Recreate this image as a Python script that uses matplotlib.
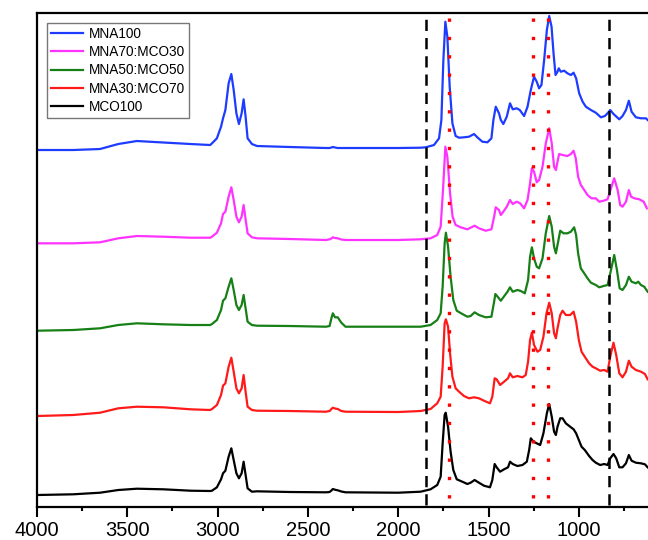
import matplotlib
matplotlib.use("Agg")
import matplotlib.pyplot as plt
import numpy as np

plt.rcParams['font.family'] = ['Liberation Sans', 'DejaVu Sans']

labels = ["MNA100", "MNA70:MCO30", "MNA50:MCO50", "MNA30:MCO70", "MCO100"]
colors = ["#1E3CFF", "#FF33FF", "#168016", "#FF1A1A", "#000000"]

# shared wavenumber grids (cm^-1)
wn_left = [4000, 3800, 3651, 3550, 3447, 3300, 3150, 3041]
wn_ch = [3031, 3004, 2981, 2970, 2957, 2939, 2924, 2911, 2896, 2882, 2867, 2856, 2845, 2834, 2810]
wn_mid = [2782, 2600, 2400, 2380, 2370, 2362, 2350, 2335, 2315, 2292, 2000]

# ---------------- MNA100 ----------------
blue_left = [362, 362, 363, 368, 371, 369.5, 368, 367]
blue_ch = [368.7, 373.7, 385.3, 393.7, 402, 428.7, 438, 422, 398.7, 388, 398.7, 412.7, 395.3, 373.7, 368]
blue_mid = [366, 365, 364, 364, 364.5, 365, 364.5, 364, 364, 364, 364]
blue_wn_r = [1876, 1848, 1802, 1774, 1761, 1750, 1739, 1728, 1715, 1700, 1682, 1663, 1636, 1608, 1580,
             1562, 1534, 1506, 1484, 1473, 1460, 1442, 1432, 1418, 1399, 1381, 1366, 1344, 1327, 1303,
             1284, 1266, 1248, 1233, 1220, 1207, 1192, 1177, 1164, 1151, 1140, 1129, 1118, 1111, 1100,
             1081, 1063, 1044, 1029, 1015, 998, 979, 961, 933, 906, 878, 856, 841, 826, 808, 776, 758,
             739, 723, 708, 684, 656, 628, 619]
blue_r = [364.3, 364.7, 367, 373.7, 392, 452, 490.3, 475.3, 425.3, 388.7, 376, 374.3, 374.7, 375.3, 378,
          374.7, 370.3, 369.7, 373.7, 392, 405.3, 398.7, 392, 388, 395.3, 408.7, 402.7, 403.7, 402, 396,
          405.3, 422, 435.3, 430.3, 423.7, 427, 452, 482, 496, 485.3, 458.7, 437, 440.3, 443.7, 440.3,
          441.3, 438.7, 437, 439.3, 433.7, 418.7, 410.3, 405.3, 402, 399.3, 394.7, 396, 398.7, 402, 398,
          392.7, 396, 402, 411.3, 400.3, 394.7, 393.7, 393.7, 392]

# ---------------- MNA70:MCO30 ----------------
pink_left = [268.7, 268.7, 269.7, 273.7, 276, 275.3, 274.3, 274.3]
pink_ch = [275.3, 279.3, 288.7, 298, 300.3, 315.3, 324.7, 312, 295.3, 289.7, 295.3, 307, 292.7, 278.7, 274.7]
pink_mid = [273.7, 273, 272, 272.7, 273.5, 274.7, 274, 273.7, 272.5, 272, 272]
pink_wn_r = [1876, 1821, 1784, 1765, 1752, 1739, 1728, 1713, 1699, 1682, 1654, 1617, 1595, 1577, 1553,
             1516, 1484, 1469, 1460, 1442, 1432, 1418, 1399, 1381, 1366, 1344, 1325, 1303, 1284, 1270,
             1260, 1248, 1233, 1220, 1201, 1183, 1164, 1150, 1137, 1127, 1118, 1109, 1090, 1063, 1044,
             1029, 1017, 1004, 989, 970, 952, 930, 906, 887, 863, 841, 822, 804, 785, 771, 758, 739, 723,
             711, 693, 665, 641, 623]
pink_r = [272.7, 273.7, 277, 285.3, 322, 365.3, 355.3, 318.7, 295.3, 287, 284.7, 282.7, 284.7, 286.3, 283.7,
          281.3, 282.7, 295.3, 304.7, 302, 297, 300.3, 305.3, 312, 308, 310.3, 308.7, 303.7, 312, 328.7,
          343.7, 340.3, 329.7, 332, 345.3, 368.7, 383.7, 368.7, 345.3, 342, 350.3, 358, 357, 356, 358,
          361.3, 353.7, 335.3, 327, 322, 317, 313.7, 313.7, 310.3, 311.3, 312.7, 323.7, 333.7, 322, 307,
          305.3, 310.3, 322, 315.3, 313.7, 312.7, 310.3, 303.7]

# ---------------- MNA50:MCO50 ----------------
green_left = [181.3, 182, 183.7, 187, 188.7, 187.7, 187, 187]
green_ch = [188, 192, 202, 211.3, 213.7, 225.3, 233.7, 222, 207, 202, 207, 217, 203.7, 190.3, 187]
green_mid = [186.3, 186, 185.3, 186, 193.7, 198.7, 194.7, 194.7, 189.3, 185.3, 185.3]
green_wn_r = [1876, 1821, 1784, 1765, 1754, 1743, 1736, 1724, 1710, 1695, 1676, 1645, 1617, 1599, 1577,
              1553, 1516, 1484, 1469, 1462, 1447, 1432, 1418, 1395, 1381, 1366, 1340, 1321, 1299, 1281,
              1270, 1260, 1248, 1233, 1220, 1201, 1183, 1164, 1150, 1137, 1127, 1118, 1103, 1085, 1063,
              1044, 1026, 1015, 1004, 989, 970, 952, 933, 906, 887, 863, 841, 826, 804, 789, 774, 758,
              739, 723, 708, 684, 671, 656, 638, 619]
green_r = [185.3, 187, 192, 198.7, 225.3, 268.7, 279.3, 265.3, 235.3, 212, 201.3, 198, 195.3, 196, 199.7,
           197, 194.7, 195.3, 210.3, 218, 214.7, 211.3, 214.7, 220.3, 224.7, 220.3, 222, 221, 218.7, 232,
           255.3, 264.7, 253.7, 245.3, 243.7, 253.7, 278.7, 296, 285.3, 265.3, 258.7, 267, 281.3, 278.7,
           278.7, 280.3, 284.7, 277, 258.7, 243.7, 238.7, 233.7, 229.3, 227, 224.7, 226, 227, 238.7, 257,
           242, 223.7, 222, 227, 235.3, 230.3, 228.7, 230.3, 227, 225.3, 220.3]

# ---------------- MNA30:MCO70 ----------------
red_left = [96, 97, 99.3, 103.7, 105.3, 104.7, 102.7, 102]
red_ch = [103, 107, 117, 126.3, 128.7, 145.3, 154.3, 140.3, 123.7, 118.7, 123.7, 137, 120.3, 105.3, 102]
red_mid = [101.3, 101, 100.3, 101, 103, 104.3, 103.5, 103, 101, 100.3, 100]
red_wn_r = [1876, 1821, 1784, 1765, 1754, 1743, 1736, 1724, 1713, 1700, 1682, 1663, 1636, 1608, 1580,
            1553, 1525, 1492, 1479, 1466, 1455, 1436, 1414, 1392, 1381, 1366, 1340, 1312, 1294, 1281,
            1270, 1260, 1248, 1229, 1214, 1196, 1179, 1164, 1150, 1137, 1127, 1118, 1103, 1090, 1072,
            1048, 1029, 1015, 1000, 985, 967, 943, 924, 906, 882, 859, 841, 826, 808, 793, 776, 758,
            739, 723, 708, 684, 656, 634, 619]
red_r = [101, 103, 108.7, 115.3, 145.3, 188.7, 192.7, 185.3, 158.7, 135.3, 123.7, 120.3, 116, 113.7, 114.7,
         113.7, 111.3, 108.7, 115.3, 133.7, 132.7, 127, 130.3, 133.7, 138.7, 134.7, 136, 134.7, 137, 150.3,
         172, 179.3, 167, 160.3, 162, 175.3, 198.7, 209.3, 198.7, 178.7, 173.7, 183.7, 197, 201.3, 197,
         197, 200.3, 190.3, 172, 160.3, 155.3, 148.7, 145.3, 143.7, 141.3, 142, 140.3, 155.3, 169.3, 157,
         138.7, 134.7, 140.3, 151.3, 145.3, 142, 140.3, 138, 132.7]

# ---------------- MCO100 ----------------
black_left = [17, 17.7, 19.3, 22, 23.3, 22.7, 21.3, 21]
black_ch = [21.3, 24.7, 32.7, 38.7, 41.3, 55.3, 63.7, 52, 38.7, 33.7, 38.7, 50.3, 37, 23.7, 20.3]
black_mid = [20.7, 20, 19.7, 20, 21.5, 23, 22.3, 21.7, 20.5, 19.7, 19.3]
black_wn_r = [1876, 1821, 1784, 1765, 1754, 1743, 1737, 1724, 1710, 1695, 1676, 1645, 1617, 1599, 1577,
              1553, 1525, 1492, 1479, 1466, 1455, 1436, 1414, 1392, 1381, 1366, 1340, 1312, 1288, 1275,
              1266, 1251, 1233, 1214, 1196, 1177, 1164, 1150, 1137, 1127, 1118, 1103, 1090, 1072, 1048,
              1029, 1015, 1000, 985, 967, 943, 924, 906, 882, 859, 841, 826, 808, 793, 776, 758, 739,
              723, 708, 684, 656, 634, 619]
black_r = [20.3, 22.7, 27, 35.3, 68.7, 97, 99.3, 85.3, 60.3, 42, 32.7, 30.3, 28, 29.3, 32,
           29.3, 26.3, 24.7, 32, 48, 44.7, 40.3, 42.7, 44.7, 50.3, 48, 46, 47, 50.3, 62,
           73.7, 70.3, 68.7, 67, 78.7, 98.7, 108, 95.3, 80.3, 77, 85.3, 93.7, 93.7, 88.7, 85.3,
           82.7, 78.7, 72, 65.3, 62, 56, 52, 49.3, 47, 48, 47, 53.7, 58, 53.7, 44.7, 44.7, 48.7,
           57, 51.3, 49.3, 48.7, 47.7, 44.7]

series = [
    (blue_left, blue_ch, blue_mid, blue_wn_r, blue_r),
    (pink_left, pink_ch, pink_mid, pink_wn_r, pink_r),
    (green_left, green_ch, green_mid, green_wn_r, green_r),
    (red_left, red_ch, red_mid, red_wn_r, red_r),
    (black_left, black_ch, black_mid, black_wn_r, black_r),
]

dashed_lines = [1848, 835]
dotted_lines = [1719, 1251, 1168]

fig = plt.figure(figsize=(6.48, 5.40), dpi=100)
ax = fig.add_axes([0.0571, 0.0611, 0.9429, 0.9148])

for (lft, ch, mid, wr, r), lab, col in zip(series, labels, colors):
    x = list(wn_left) + list(wn_ch) + list(wn_mid) + list(wr)
    y = list(lft) + list(ch) + list(mid) + list(r)
    ax.plot(x, y, color=col, lw=1.6, label=lab, solid_joinstyle='round')

for v in dashed_lines:
    ax.axvline(v, ymin=0.004, ymax=1, color='black', lw=1.8, dashes=(4.5, 2.8))
for v in dotted_lines:
    ax.axvline(v, ymin=0.018, ymax=1, color='red', lw=2.4, dashes=(1, 4.5))

ax.set_xlim(4000, 617)
ax.set_ylim(5, 499)
ax.set_xticks([4000, 3500, 3000, 2500, 2000, 1500, 1000])
ax.set_xticks(np.arange(3750, 600, -500), minor=True)
ax.tick_params(axis='x', which='major', direction='out', length=7.2, width=1.5, labelsize=14.5, pad=3)
ax.tick_params(axis='x', which='minor', direction='out', length=3.2, width=1.5)
ax.set_yticks([])
for s in ['left', 'top', 'bottom']:
    ax.spines[s].set_linewidth(1.6)
ax.spines['right'].set_visible(False)

leg = ax.legend(loc='upper left', fontsize=9.8, frameon=True, fancybox=False, edgecolor='#555555',
                handlelength=2.4, labelspacing=0.32, borderpad=0.3, borderaxespad=0.7,
                handletextpad=0.4)
leg.get_frame().set_linewidth(1.0)

fig.savefig('out.png', dpi=100)
